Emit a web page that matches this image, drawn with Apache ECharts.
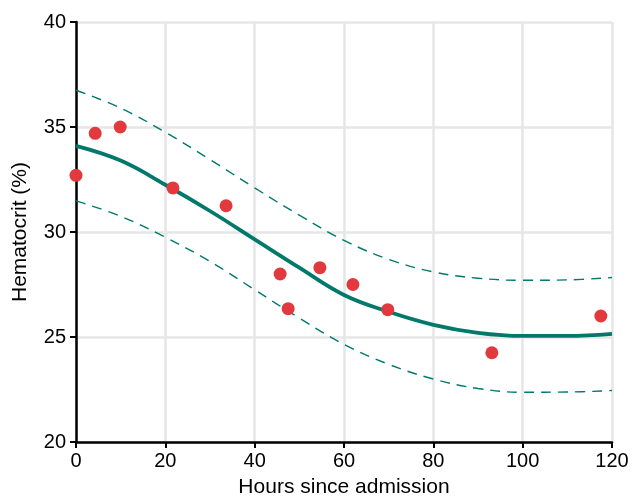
<!DOCTYPE html>
<html><head><meta charset="utf-8">
<script src="https://cdn.jsdelivr.net/npm/echarts@6/dist/echarts.min.js"></script>
<style>html,body{margin:0;padding:0;background:#fff;overflow:hidden}#c{width:632px;height:503px}</style>
</head><body><div id="c"></div>
<script>
const obsHours = [0, 4.3, 9.9, 21.7, 33.6, 45.7, 47.5, 54.6, 62.0, 69.8, 93.1, 117.5];
const obsHct   = [32.7, 34.7, 35.0, 32.1, 31.25, 28.0, 26.35, 28.3, 27.5, 26.3, 24.25, 26.0];
const fitHours = [0, 10, 20, 30, 40, 50, 60, 70, 80, 90, 100, 110, 120];
const fitMean  = [34.1, 33.4, 32.25, 31.0, 29.65, 28.3, 27.0, 26.2, 25.58, 25.2, 25.05, 25.05, 25.15];
const fitUpper = [36.75, 35.9, 34.75, 33.45, 32.1, 30.8, 29.6, 28.7, 28.1, 27.8, 27.7, 27.72, 27.83];
const fitLower = [31.48, 30.75, 29.75, 28.6, 27.25, 25.9, 24.65, 23.7, 23.0, 22.55, 22.37, 22.38, 22.45];
const xTicks = [0, 20, 40, 60, 80, 100, 120];
const yTicks = [20, 25, 30, 35, 40];

const teal = '#00796b';
const font = 'Liberation Sans, Arial, sans-serif';
const pair = (xs, ys) => xs.map((x, i) => [x, ys[i]]);
const chart = echarts.init(document.getElementById('c'), null, {width: 632, height: 503});
chart.setOption({
  animation: false,
  grid: {left: 76, top: 22, width: 536, height: 424},
  xAxis: {
    type: 'value', min: xTicks[0], max: xTicks[xTicks.length-1], interval: 20,
    name: 'Hours since admission', nameLocation: 'middle', nameGap: 35,
    nameTextStyle: {color: '#000', fontSize: 21, fontFamily: font},
    axisLine: {lineStyle: {color: '#000', width: 2.5}},
    axisTick: {show: true, length: 6, lineStyle: {color: '#000', width: 2}},
    axisLabel: {color: '#000', fontSize: 20, fontFamily: font, margin: 9},
    splitLine: {show: true, lineStyle: {color: '#e6e6e6', width: 2.5}}
  },
  yAxis: {
    type: 'value', min: yTicks[0], max: yTicks[yTicks.length-1], interval: 5,
    name: 'Hematocrit (%)', nameLocation: 'middle', nameGap: 45, nameRotate: 90,
    nameTextStyle: {color: '#000', fontSize: 21, fontFamily: font},
    axisLine: {show: true, lineStyle: {color: '#000', width: 2.5}},
    axisTick: {show: true, length: 6, lineStyle: {color: '#000', width: 2}},
    axisLabel: {color: '#000', fontSize: 20, fontFamily: font, margin: 10},
    splitLine: {show: true, lineStyle: {color: '#e6e6e6', width: 2.5}}
  },
  series: [
    {type: 'line', data: pair(fitHours, fitUpper), smooth: 0.4, symbol: 'none',
     lineStyle: {color: teal, width: 1.4, type: [10, 7]}, z: 2},
    {type: 'line', data: pair(fitHours, fitLower), smooth: 0.4, symbol: 'none',
     lineStyle: {color: teal, width: 1.4, type: [10, 7]}, z: 2},
    {type: 'line', data: pair(fitHours, fitMean), smooth: 0.4, symbol: 'none',
     lineStyle: {color: teal, width: 3.8}, z: 3},
    {type: 'scatter', data: pair(obsHours, obsHct), symbolSize: 13,
     itemStyle: {color: '#e2393e', opacity: 1}, z: 4}
  ]
});
</script></body></html>
